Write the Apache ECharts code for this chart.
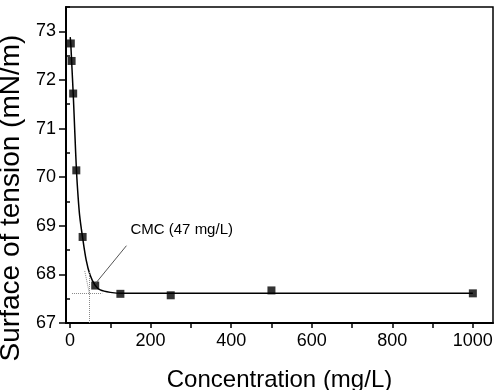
<!DOCTYPE html>
<html><head><meta charset="utf-8">
<script src="https://cdn.jsdelivr.net/npm/echarts@6/dist/echarts.min.js"></script>
<style>html,body{margin:0;padding:0;background:#fff}#c{width:500px;height:390px}</style>
</head><body><div id="c"></div>
<script>
// Measured data points
const concentration = [1.95, 3.9, 7.8, 15.6, 31.25, 62.5, 125, 250, 500, 1000];
const tension = [72.75, 72.39, 71.72, 70.14, 68.77, 67.77, 67.60, 67.57, 67.67, 67.61];
// Fitted curve
const fitX = [0.5, 2, 4, 8, 12, 16, 20, 24, 31, 40, 50, 62, 75, 100, 130, 1000];
const fitY = [72.88, 72.72, 72.38, 71.7, 70.9, 70.13, 69.6, 69.2, 68.77, 68.3, 67.98, 67.78, 67.68, 67.63, 67.61, 67.61];
// Ticks
const xLabels = [0, 200, 400, 600, 800, 1000];
const xTicks = [0, 100, 200, 300, 400, 500, 600, 700, 800, 900, 1000];
const yLabels = [67, 68, 69, 70, 71, 72, 73];
const yMinor = [67.5, 68.5, 69.5, 70.5, 71.5, 72.5, 73.5];
// Annotation
const cmcValue = 47;
const cmcText = 'CMC (47 mg/L)';
const plateau = 67.61;

const FONT = 'Liberation Sans, Arial, sans-serif';
const chart = echarts.init(document.getElementById('c'), null, {renderer: 'canvas'});
const scatterData = concentration.map((x, i) => [x, tension[i]]);
const fitData = fitX.map((x, i) => [x, fitY[i]]);

chart.setOption({
  animation: false,
  backgroundColor: '#fff',
  grid: {left: 66, right: 7, top: 7, bottom: 67, show: true, borderColor: '#000', borderWidth: 1.5, backgroundColor: 'transparent', containLabel: false, outerBoundsMode: 'none'},
  xAxis: {
    type: 'value', min: -10, max: 1050,
    name: 'Concentration (mg/L)', nameLocation: 'middle', nameGap: 45,
    nameTextStyle: {fontFamily: FONT, fontSize: 24, color: '#000'},
    axisLine: {show: true, onZero: false, lineStyle: {color: '#000', width: 2}},
    axisTick: {show: true, length: 5, customValues: xTicks, lineStyle: {color: '#000', width: 1.5}},
    axisLabel: {customValues: xLabels, margin: 9, fontFamily: FONT, fontSize: 18, color: '#000', formatter: v => String(v)},
    splitLine: {show: false}
  },
  yAxis: [{
    type: 'value', min: 67, max: 73.5,
    name: 'Surface of tension (mN/m)', nameLocation: 'middle', nameGap: 38, nameRotate: 90,
    nameTextStyle: {fontFamily: FONT, fontSize: 28, color: '#000', padding: [0, 66, 0, 0]},
    axisLine: {show: true, onZero: false, lineStyle: {color: '#000', width: 2}},
    axisTick: {show: true, length: 7, customValues: yLabels, lineStyle: {color: '#000', width: 1.5}},
    axisLabel: {customValues: yLabels, margin: 10, fontFamily: FONT, fontSize: 18, color: '#000', formatter: v => String(v)},
    splitLine: {show: false}
  }, {
    type: 'value', min: 67, max: 73.5, position: 'left',
    axisLine: {show: false},
    axisTick: {show: true, length: 4, customValues: yMinor, lineStyle: {color: '#000', width: 1.5}},
    axisLabel: {show: false},
    splitLine: {show: false}
  }],
  series: [{
    type: 'line', data: fitData, showSymbol: false, smooth: 0.3,
    lineStyle: {color: '#000', width: 1.5}, z: 2,
    markLine: {
      silent: true, symbol: ['none', 'none'], label: {show: false},
      lineStyle: {color: '#888', type: 'dotted', width: 1},
      data: [
        [{coord: [cmcValue, 67]}, {coord: [cmcValue, 68.05]}],
        [{coord: [5, plateau]}, {coord: [80, plateau]}],
        [{coord: [36.5, 68.07]}, {coord: [48, plateau]}]
      ]
    }
  }, {
    type: 'line', data: [],
    markLine: {
      silent: true, label: {show: false}, symbolSize: [0, 8],
      lineStyle: {color: '#555', type: 'solid', width: 1},
      data: [[{coord: [64, 67.82], symbol: 'none'}, {coord: [140, 68.59], symbol: 'arrow'}]]
    },
    markPoint: {
      symbol: 'circle', symbolSize: 0,
      label: {show: true, position: 'right', distance: 0, formatter: cmcText, fontFamily: FONT, fontSize: 15, color: '#000'},
      data: [{coord: [150, 68.92]}]
    }
  }, {
    type: 'scatter', data: scatterData, symbol: 'rect', symbolSize: 8,
    itemStyle: {color: '#000'}, z: 3
  }]
});
</script></body></html>
